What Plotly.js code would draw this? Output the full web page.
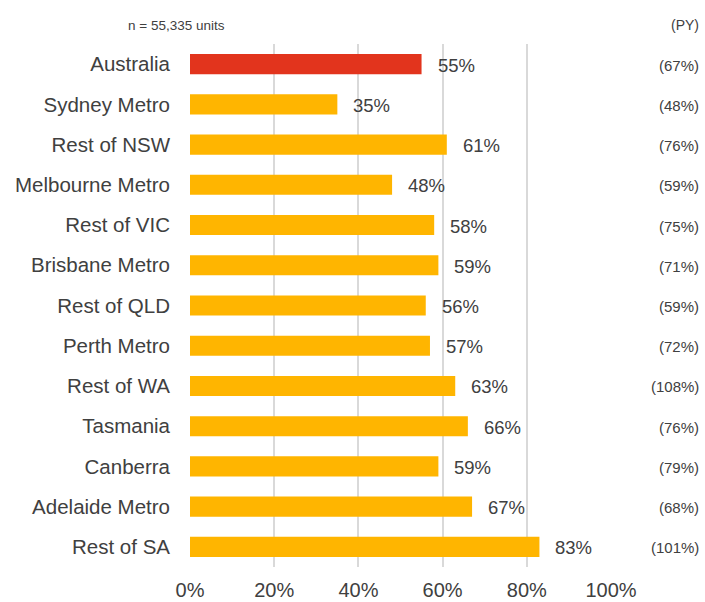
<!DOCTYPE html>
<html>
<head>
<meta charset="utf-8">
<script src="https://cdn.plot.ly/plotly-3.0.1.min.js"></script>
<style>html,body{margin:0;padding:0;background:#fff;}#chart{width:705px;height:602px;}</style>
</head>
<body>
<div id="chart"></div>
<script>
const regions = ["Australia","Sydney Metro","Rest of NSW","Melbourne Metro","Rest of VIC","Brisbane Metro","Rest of QLD","Perth Metro","Rest of WA","Tasmania","Canberra","Adelaide Metro","Rest of SA"];
const values = [55,35,61,48,58,59,56,57,63,66,59,67,83];
const pyValues = [67,48,76,59,75,71,59,72,108,76,79,68,101];
const barColors = ["#E2341D","#FFB500","#FFB500","#FFB500","#FFB500","#FFB500","#FFB500","#FFB500","#FFB500","#FFB500","#FFB500","#FFB500","#FFB500"];
const xTicks = [0,20,40,60,80,100];
const sampleNote = "n = 55,335 units";
const pyHeader = "(PY)";

const font = "Liberation Sans, Arial, sans-serif";
const txt = "#404040";

const annotations = [];
values.forEach((v,i)=>{
  annotations.push({x:v, y:regions[i], xref:'x', yref:'y', text:v+'%', showarrow:false,
    xanchor:'left', xshift:14, yshift:-1, font:{family:font,size:18.5,color:txt}});
  annotations.push({x:1.214, y:regions[i], xref:'paper', yref:'y', text:'('+pyValues[i]+'%)', showarrow:false,
    xanchor:'right', yshift:-1, font:{family:font,size:15,color:txt}});
});
annotations.push({x:-0.152, y:1.0, xref:'paper', yref:'paper', yanchor:'bottom', yshift:9, xanchor:'left',
  text:sampleNote, showarrow:false, font:{family:font,size:13.5,color:txt}});
annotations.push({x:1.214, y:1.0, xref:'paper', yref:'paper', yanchor:'bottom', yshift:9, xanchor:'right',
  text:pyHeader, showarrow:false, font:{family:font,size:14,color:txt}});

const trace = {
  type:'bar', orientation:'h', x:values, y:regions,
  marker:{color:barColors}, hoverinfo:'skip'
};

const layout = {
  width:705, height:602,
  margin:{l:190, r:94, t:44, b:35},
  paper_bgcolor:'#fff', plot_bgcolor:'#fff',
  showlegend:false, bargap:0.5,
  font:{family:font, color:txt},
  xaxis:{range:[0,100], tickvals:xTicks, ticktext:xTicks.map(t=>t+'%'),
    showgrid:true, gridcolor:'#D9D9D9', gridwidth:2, zeroline:false, showline:false,
    ticks:'', ticklabelstandoff:9, tickfont:{family:font,size:20,color:txt}, fixedrange:true},
  yaxis:{categoryorder:'array', categoryarray:regions, autorange:'reversed',
    showgrid:false, zeroline:false, showline:false, ticks:'', ticklabelstandoff:19,
    tickfont:{family:font,size:20.5,color:txt}, fixedrange:true},
  annotations:annotations
};

Plotly.newPlot('chart',[trace],layout,{displayModeBar:false, staticPlot:true});
</script>
</body>
</html>
